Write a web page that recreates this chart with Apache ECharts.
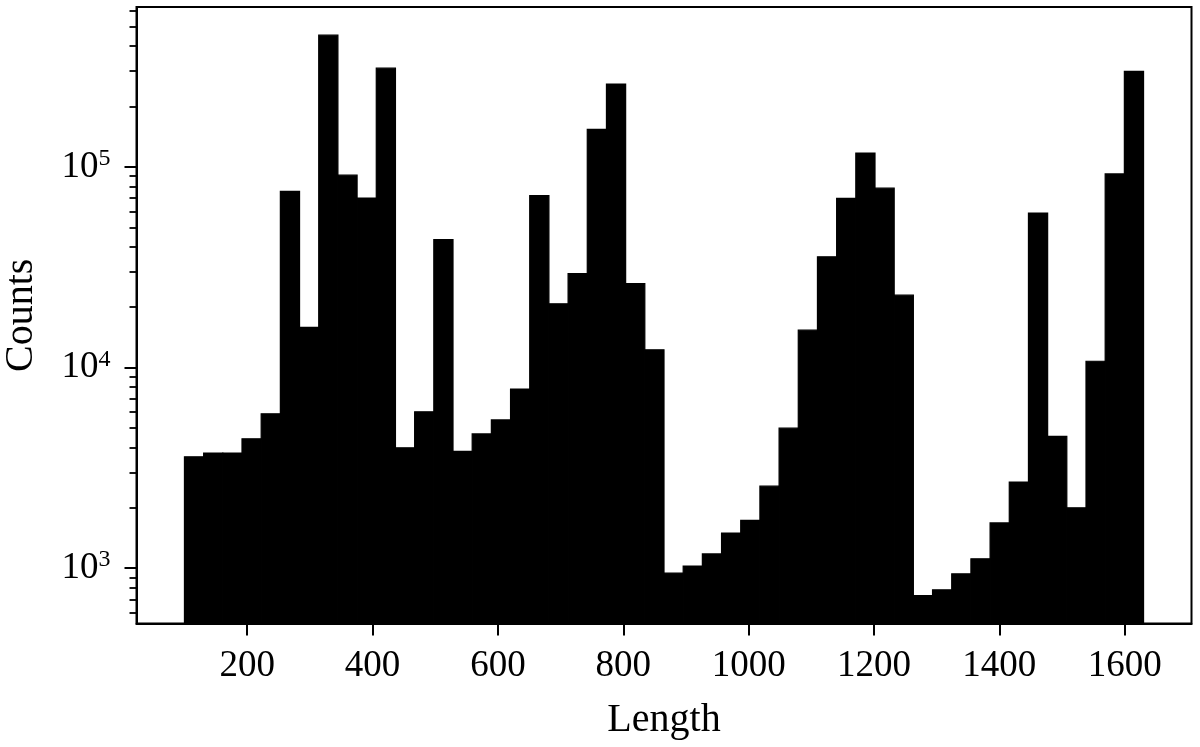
<!DOCTYPE html>
<html>
<head>
<meta charset="utf-8">
<script src="https://cdn.jsdelivr.net/npm/echarts@6/dist/echarts.min.js"></script>
<style>
  html, body { margin: 0; padding: 0; background: #fff; }
  #chart { width: 1200px; height: 747px; }
</style>
</head>
<body>
<div id="chart"></div>
<script>
// histogram bins: 50 equal bins from 100 to 1630
var binStart = 100;
var binWidth = 30.6;
var counts = [3590, 3750, 3750, 4415, 5880, 75500, 15860, 454000, 91000, 70000,
              310600, 3985, 6015, 43450, 3820, 4670, 5480, 7820, 72050, 20800,
              29440, 153900, 258800, 26200, 12260, 945, 1024, 1178, 1496, 1730,
              2564, 4990, 15360, 35670, 69700, 117300, 78400, 22960, 731, 780,
              937, 1114, 1682, 2688, 58900, 4540, 2000, 10750, 92300, 299300];

// axis ticks
var xTicks = [200, 400, 600, 800, 1000, 1200, 1400, 1600];
var yMajor = [1000, 10000, 100000];
var yMinor = [600, 700, 800, 900,
              2000, 3000, 4000, 5000, 6000, 7000, 8000, 9000,
              20000, 30000, 40000, 50000, 60000, 70000, 80000, 90000,
              200000, 300000, 400000, 500000, 600000];

var xMin = 23.5, xMax = 1706.5;
var yMin = 530, yMax = 627000;

var font = '"Liberation Serif", "DejaVu Serif", serif';

var histData = counts.map(function (c, i) {
    var lo = binStart + i * binWidth;
    return [lo, lo + binWidth, c];
});

var myChart = echarts.init(document.getElementById('chart'));
var option = {
    backgroundColor: '#fff',
    animation: false,
    grid: {
        left: 136.5,
        right: 8.5,
        top: 7,
        bottom: 123.5,
        containLabel: false,
        outerBoundsMode: 'none',
        show: true,
        borderColor: '#000',
        borderWidth: 2,
        backgroundColor: 'transparent'
    },
    xAxis: {
        type: 'value',
        min: xMin,
        max: xMax,
        name: 'Length',
        nameLocation: 'middle',
        nameGap: 77,
        nameTextStyle: { fontFamily: font, fontSize: 40, color: '#000' },
        splitLine: { show: false },
        axisLine: { show: true, lineStyle: { color: '#000', width: 2 } },
        axisTick: {
            show: true,
            customValues: xTicks,
            length: 12,
            lineStyle: { color: '#000', width: 2 }
        },
        axisLabel: {
            customValues: xTicks,
            margin: 24,
            fontFamily: font,
            fontSize: 37,
            color: '#000',
            formatter: function (v) { return String(v); }
        }
    },
    yAxis: [
        {
            type: 'log',
            logBase: 10,
            min: yMin,
            max: yMax,
            name: 'Counts',
            nameLocation: 'middle',
            nameGap: 95,
            nameTextStyle: { fontFamily: font, fontSize: 40, color: '#000' },
            splitLine: { show: false },
            axisLine: { show: true, lineStyle: { color: '#000', width: 2 } },
            axisTick: {
                show: true,
                customValues: yMajor,
                length: 12,
                lineStyle: { color: '#000', width: 2 }
            },
            axisLabel: {
                customValues: yMajor,
                margin: 26,
                color: '#000',
                formatter: function (v) {
                    var e = Math.round(Math.log(v) / Math.LN10);
                    return '{b|10}{e|' + e + '}';
                },
                rich: {
                    b: { fontFamily: font, fontSize: 37, lineHeight: 40, color: '#000' },
                    e: { fontFamily: font, fontSize: 24, lineHeight: 26, verticalAlign: 'top', color: '#000' }
                }
            }
        },
        {
            type: 'log',
            logBase: 10,
            min: yMin,
            max: yMax,
            position: 'left',
            splitLine: { show: false },
            axisLine: { show: false },
            axisLabel: { show: false },
            axisTick: {
                show: true,
                customValues: yMinor,
                length: 7,
                lineStyle: { color: '#000', width: 1.8 }
            }
        }
    ],
    series: [
        {
            type: 'custom',
            name: 'Counts',
            xAxisIndex: 0,
            yAxisIndex: 0,
            data: histData,
            encode: { x: [0, 1], y: 2 },
            renderItem: function (params, api) {
                var top = api.coord([api.value(0), api.value(2)]);
                var right = api.coord([api.value(1), api.value(2)]);
                var bottom = params.coordSys.y + params.coordSys.height;
                return {
                    type: 'rect',
                    shape: {
                        x: top[0],
                        y: top[1],
                        width: right[0] - top[0],
                        height: bottom - top[1]
                    },
                    style: { fill: '#000', stroke: '#000', lineWidth: 1.2 }
                };
            }
        }
    ]
};
myChart.setOption(option);
</script>
</body>
</html>
